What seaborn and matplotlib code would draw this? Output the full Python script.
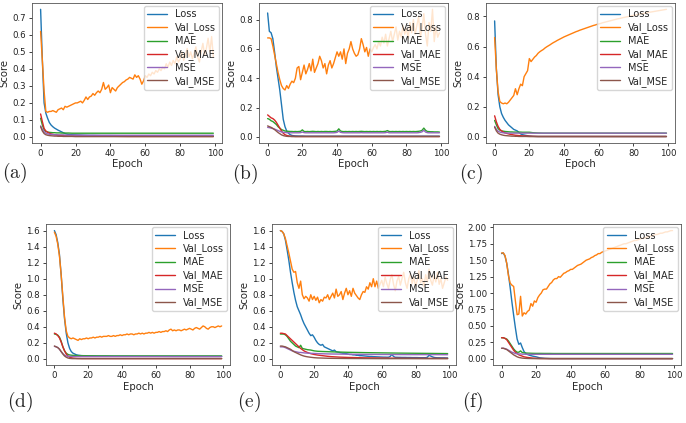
"""
Training curves (Loss / MAE / MSE) for six model runs, panels (a)-(f)
"""

import pandas as pd
import matplotlib
matplotlib.use('Agg')
import matplotlib.pyplot as plt
from matplotlib.ticker import MultipleLocator
import seaborn as sns

# ---- data -----------------------------------------------------------------
LABELS = ['Loss', 'Val_Loss', 'MAE', 'Val_MAE', 'MSE', 'Val_MSE']
PANELS = ['(a)', '(b)', '(c)', '(d)', '(e)', '(f)']
Y_STEP = [0.1, 0.2, 0.2, 0.2, 0.2, 0.25]

# full epoch axis, and the sparse one used for the smooth curves
EP_FULL = list(range(100))
EP_S = [0, 1, 2, 3, 4, 5, 6, 7, 8, 9, 10, 11, 12, 13, 14, 15, 16, 18, 20, 22,
        25, 28, 30, 35, 40, 50, 60, 70, 80, 90, 99]

# (a)
a_loss = [0.75, 0.45, 0.2, 0.14, 0.11, 0.085, 0.07, 0.06, 0.052, 0.046, 0.04, 0.035, 0.03, 0.025, 0.02, 0.017,
          0.015, 0.013, 0.012, 0.011, 0.01, 0.009, 0.009, 0.008, 0.008, 0.007, 0.007, 0.006, 0.006, 0.005, 0.005]
a_val_loss = [0.62, 0.45, 0.27, 0.15, 0.145, 0.15, 0.15, 0.155, 0.15, 0.145,
              0.16, 0.165, 0.17, 0.16, 0.18, 0.175, 0.18, 0.185, 0.19, 0.195,
              0.2, 0.2, 0.205, 0.21, 0.2, 0.215, 0.235, 0.22, 0.235, 0.24,
              0.255, 0.245, 0.26, 0.27, 0.26, 0.28, 0.32, 0.28, 0.29, 0.305,
              0.26, 0.29, 0.28, 0.27, 0.29, 0.3, 0.31, 0.32, 0.325, 0.335,
              0.34, 0.35, 0.345, 0.34, 0.365, 0.35, 0.36, 0.34, 0.31, 0.33,
              0.36, 0.35, 0.37, 0.36, 0.38, 0.37, 0.39, 0.38, 0.4, 0.39,
              0.41, 0.4, 0.43, 0.41, 0.44, 0.42, 0.45, 0.43, 0.47, 0.44,
              0.46, 0.5, 0.45, 0.48, 0.52, 0.47, 0.5, 0.46, 0.49, 0.53,
              0.47, 0.44, 0.5, 0.55, 0.48, 0.52, 0.58, 0.5, 0.59, 0.47]
a_mae = [0.11, 0.07, 0.042, 0.032, 0.029, 0.027, 0.026, 0.025, 0.025, 0.024, 0.024, 0.024, 0.023, 0.023, 0.023, 0.023,
         0.023, 0.022, 0.022, 0.022, 0.022, 0.022, 0.022, 0.022, 0.022, 0.022, 0.022, 0.022, 0.022, 0.022, 0.022]
a_val_mae = [0.135, 0.09, 0.05, 0.035, 0.028, 0.022, 0.018, 0.015, 0.013, 0.012, 0.01, 0.009, 0.008, 0.008, 0.007, 0.007,
             0.006, 0.006, 0.005, 0.005, 0.005, 0.004, 0.004, 0.004, 0.004, 0.003, 0.003, 0.003, 0.003, 0.003, 0.003]
a_mse = [0.065, 0.045, 0.03, 0.022, 0.018, 0.016, 0.015, 0.014, 0.013, 0.013, 0.012, 0.012, 0.012, 0.012, 0.011, 0.011,
         0.011, 0.011, 0.011, 0.011, 0.01, 0.01, 0.01, 0.01, 0.01, 0.01, 0.01, 0.01, 0.01, 0.01, 0.01]
a_val_mse = [0.06, 0.035, 0.02, 0.013, 0.01, 0.008, 0.007, 0.006, 0.005, 0.005, 0.004, 0.004, 0.004, 0.003, 0.003, 0.003,
             0.003, 0.003, 0.002, 0.002, 0.002, 0.002, 0.002, 0.002, 0.002, 0.002, 0.002, 0.002, 0.002, 0.002, 0.002]

# (b)
b_loss = [0.845, 0.72, 0.71, 0.67, 0.58, 0.48, 0.4, 0.32, 0.22, 0.12, 0.07, 0.04, 0.025, 0.015, 0.01, 0.008,
          0.007, 0.006, 0.006, 0.005, 0.005, 0.005, 0.005, 0.005, 0.005, 0.005, 0.005, 0.005, 0.005, 0.005, 0.005]
b_val_loss = [0.675, 0.675, 0.67, 0.62, 0.56, 0.5, 0.44, 0.39, 0.35, 0.33,
              0.32, 0.35, 0.33, 0.36, 0.38, 0.37, 0.4, 0.47, 0.48, 0.39,
              0.44, 0.49, 0.43, 0.46, 0.5, 0.45, 0.53, 0.44, 0.47, 0.5,
              0.55, 0.52, 0.47, 0.5, 0.43, 0.49, 0.52, 0.47, 0.5, 0.54,
              0.58, 0.55, 0.58, 0.53, 0.6, 0.5, 0.57, 0.6, 0.65, 0.6,
              0.57, 0.55, 0.56, 0.6, 0.67, 0.63, 0.58, 0.61, 0.55, 0.6,
              0.58, 0.61, 0.63, 0.6, 0.65, 0.62, 0.68, 0.64, 0.7, 0.62,
              0.67, 0.72, 0.65, 0.7, 0.75, 0.66, 0.72, 0.68, 0.76, 0.7,
              0.74, 0.67, 0.78, 0.71, 0.8, 0.7, 0.76, 0.82, 0.68, 0.74,
              0.84, 0.7, 0.62, 0.78, 0.72, 0.87, 0.65, 0.75, 0.68, 0.71]
b_mae = [0.125, 0.12, 0.11, 0.105, 0.095, 0.085, 0.07, 0.06, 0.05, 0.045,
         0.04, 0.039, 0.038, 0.037, 0.037, 0.036, 0.037, 0.036, 0.037, 0.038,
         0.048, 0.037, 0.036, 0.037, 0.036, 0.037, 0.038, 0.037, 0.036, 0.037,
         0.036, 0.037, 0.036, 0.037, 0.037, 0.036, 0.037, 0.036, 0.037, 0.038,
         0.04, 0.055, 0.04, 0.037, 0.036, 0.037, 0.036, 0.037, 0.036, 0.037,
         0.036, 0.037, 0.036, 0.037, 0.038, 0.037, 0.036, 0.037, 0.036, 0.037,
         0.036, 0.037, 0.036, 0.037, 0.036, 0.037, 0.036, 0.037, 0.038, 0.043,
         0.037, 0.036, 0.037, 0.036, 0.037, 0.036, 0.037, 0.036, 0.037, 0.036,
         0.037, 0.036, 0.037, 0.036, 0.037, 0.036, 0.037, 0.038, 0.04, 0.045,
         0.06, 0.045, 0.037, 0.036, 0.035, 0.035, 0.034, 0.034, 0.034, 0.033]
b_val_mae = [0.15, 0.14, 0.13, 0.125, 0.115, 0.1, 0.08, 0.06, 0.04, 0.025, 0.015, 0.01, 0.007, 0.005, 0.004, 0.004,
             0.003, 0.003, 0.003, 0.003, 0.003, 0.003, 0.003, 0.003, 0.003, 0.003, 0.003, 0.003, 0.003, 0.003, 0.003]
b_mse = [0.065, 0.063, 0.06, 0.057, 0.053, 0.048, 0.043, 0.038, 0.034, 0.031,
         0.03, 0.029, 0.029, 0.028, 0.028, 0.028, 0.028, 0.028, 0.028, 0.029,
         0.033, 0.029, 0.028, 0.028, 0.028, 0.028, 0.028, 0.028, 0.028, 0.028,
         0.028, 0.028, 0.028, 0.028, 0.028, 0.028, 0.028, 0.028, 0.028, 0.029,
         0.031, 0.04, 0.031, 0.029, 0.028, 0.028, 0.028, 0.028, 0.028, 0.028,
         0.028, 0.028, 0.028, 0.028, 0.029, 0.028, 0.028, 0.028, 0.028, 0.028,
         0.028, 0.028, 0.028, 0.028, 0.028, 0.028, 0.028, 0.028, 0.029, 0.032,
         0.028, 0.028, 0.028, 0.028, 0.028, 0.028, 0.028, 0.028, 0.028, 0.028,
         0.028, 0.028, 0.028, 0.028, 0.028, 0.028, 0.028, 0.029, 0.031, 0.035,
         0.045, 0.033, 0.029, 0.028, 0.028, 0.028, 0.028, 0.028, 0.028, 0.028]
b_val_mse = [0.075, 0.07, 0.065, 0.058, 0.05, 0.04, 0.03, 0.022, 0.014, 0.009, 0.006, 0.004, 0.003, 0.003, 0.002, 0.002,
             0.002, 0.002, 0.002, 0.002, 0.002, 0.002, 0.002, 0.002, 0.002, 0.002, 0.002, 0.002, 0.002, 0.002, 0.002]

# (c)
c_loss = [0.77, 0.45, 0.28, 0.2, 0.155, 0.13, 0.11, 0.095, 0.08, 0.07, 0.06, 0.05, 0.045, 0.04, 0.03, 0.02,
          0.015, 0.01, 0.006, 0.004, 0.003, 0.003, 0.003, 0.003, 0.003, 0.003, 0.003, 0.003, 0.003, 0.003, 0.003]
c_val_loss = [0.66, 0.45, 0.3, 0.235, 0.225, 0.22, 0.225, 0.22, 0.23, 0.245,
              0.26, 0.275, 0.32, 0.28, 0.32, 0.35, 0.34, 0.4, 0.42, 0.44,
              0.52, 0.5, 0.515, 0.53, 0.54, 0.555, 0.565, 0.573, 0.58, 0.59,
              0.598, 0.605, 0.612, 0.62, 0.627, 0.633, 0.64, 0.646, 0.652, 0.658,
              0.664, 0.669, 0.674, 0.679, 0.684, 0.689, 0.694, 0.699, 0.703, 0.708,
              0.712, 0.716, 0.72, 0.724, 0.728, 0.732, 0.736, 0.74, 0.743, 0.747,
              0.75, 0.753, 0.757, 0.76, 0.763, 0.766, 0.769, 0.772, 0.775, 0.778,
              0.781, 0.784, 0.786, 0.789, 0.792, 0.794, 0.797, 0.799, 0.802, 0.804,
              0.807, 0.809, 0.811, 0.814, 0.816, 0.818, 0.82, 0.822, 0.825, 0.827,
              0.829, 0.831, 0.833, 0.835, 0.837, 0.839, 0.841, 0.843, 0.845, 0.847]
c_mae = [0.11, 0.08, 0.055, 0.045, 0.04, 0.038, 0.036, 0.035, 0.034, 0.033, 0.033, 0.032, 0.032, 0.032, 0.032, 0.032,
         0.031, 0.031, 0.031, 0.028, 0.026, 0.025, 0.025, 0.025, 0.025, 0.025, 0.025, 0.025, 0.025, 0.025, 0.025]
c_val_mae = [0.14, 0.1, 0.07, 0.05, 0.04, 0.032, 0.027, 0.023, 0.02, 0.017, 0.015, 0.013, 0.011, 0.01, 0.009, 0.008,
             0.007, 0.006, 0.005, 0.004, 0.003, 0.003, 0.003, 0.003, 0.003, 0.003, 0.003, 0.003, 0.003, 0.003, 0.003]
c_mse = [0.07, 0.05, 0.038, 0.032, 0.029, 0.027, 0.026, 0.026, 0.025, 0.025, 0.025, 0.025, 0.025, 0.025, 0.025, 0.025,
         0.025, 0.025, 0.025, 0.025, 0.025, 0.025, 0.025, 0.025, 0.025, 0.025, 0.025, 0.025, 0.025, 0.025, 0.025]
c_val_mse = [0.065, 0.04, 0.025, 0.018, 0.014, 0.011, 0.009, 0.008, 0.007, 0.006, 0.005, 0.005, 0.004, 0.004, 0.003, 0.003,
             0.003, 0.003, 0.002, 0.002, 0.002, 0.002, 0.002, 0.002, 0.002, 0.002, 0.002, 0.002, 0.002, 0.002, 0.002]

# (d)
d_loss = [1.6, 1.55, 1.45, 1.3, 1.05, 0.75, 0.5, 0.32, 0.2, 0.13, 0.09, 0.07, 0.06, 0.05, 0.045, 0.042,
          0.04, 0.038, 0.036, 0.035, 0.034, 0.033, 0.033, 0.032, 0.032, 0.031, 0.031, 0.03, 0.03, 0.03, 0.03]
d_val_loss = [1.58, 1.53, 1.43, 1.28, 1.05, 0.78, 0.52, 0.35, 0.28, 0.26,
              0.25, 0.26, 0.25, 0.24, 0.23, 0.25, 0.24, 0.25, 0.25, 0.26,
              0.25, 0.26, 0.26, 0.27, 0.26, 0.27, 0.27, 0.28, 0.27, 0.28,
              0.28, 0.28, 0.29, 0.28, 0.28, 0.29, 0.28, 0.29, 0.29, 0.3,
              0.29, 0.3, 0.3, 0.31, 0.3, 0.31, 0.31, 0.3, 0.31, 0.31,
              0.32, 0.31, 0.32, 0.31, 0.32, 0.32, 0.33, 0.32, 0.33, 0.32,
              0.33, 0.33, 0.34, 0.33, 0.34, 0.34, 0.35, 0.34, 0.36, 0.37,
              0.35, 0.36, 0.35, 0.36, 0.36, 0.35, 0.36, 0.37, 0.36, 0.37,
              0.38, 0.37, 0.36, 0.38, 0.39, 0.38, 0.37, 0.39, 0.41, 0.4,
              0.38, 0.37, 0.39, 0.4, 0.4, 0.39, 0.4, 0.41, 0.4, 0.41]
d_mae = [0.31, 0.305, 0.295, 0.27, 0.22, 0.15, 0.1, 0.07, 0.055, 0.048, 0.045, 0.043, 0.042, 0.041, 0.04, 0.04,
         0.039, 0.039, 0.038, 0.038, 0.037, 0.037, 0.037, 0.036, 0.036, 0.036, 0.036, 0.036, 0.036, 0.036, 0.036]
d_val_mae = [0.32, 0.31, 0.29, 0.26, 0.21, 0.15, 0.1, 0.06, 0.035, 0.02, 0.013, 0.009, 0.007, 0.005, 0.004, 0.004,
             0.003, 0.003, 0.003, 0.003, 0.003, 0.003, 0.003, 0.003, 0.003, 0.003, 0.003, 0.003, 0.003, 0.003, 0.003]
d_mse = [0.155, 0.15, 0.14, 0.12, 0.09, 0.065, 0.045, 0.036, 0.032, 0.03, 0.029, 0.029, 0.028, 0.028, 0.028, 0.028,
         0.028, 0.028, 0.028, 0.028, 0.028, 0.028, 0.028, 0.028, 0.028, 0.028, 0.028, 0.028, 0.028, 0.028, 0.028]
d_val_mse = [0.16, 0.15, 0.14, 0.12, 0.09, 0.06, 0.035, 0.02, 0.01, 0.005, 0.003, 0.002, 0.002, 0.002, 0.002, 0.002,
             0.002, 0.002, 0.002, 0.002, 0.002, 0.002, 0.002, 0.002, 0.002, 0.002, 0.002, 0.002, 0.002, 0.002, 0.002]

# (e)
e_loss = [1.6, 1.59, 1.56, 1.48, 1.36, 1.23, 1.08, 0.95, 0.83, 0.73,
          0.65, 0.6, 0.55, 0.49, 0.44, 0.4, 0.36, 0.32, 0.29, 0.3,
          0.27, 0.23, 0.2, 0.18, 0.17, 0.18, 0.15, 0.14, 0.13, 0.12,
          0.11, 0.1, 0.11, 0.09, 0.085, 0.08, 0.075, 0.07, 0.07, 0.065,
          0.06, 0.055, 0.055, 0.05, 0.05, 0.045, 0.045, 0.04, 0.04, 0.038,
          0.036, 0.034, 0.032, 0.03, 0.03, 0.028, 0.027, 0.026, 0.025, 0.024,
          0.023, 0.022, 0.022, 0.021, 0.021, 0.03, 0.055, 0.03, 0.02, 0.02,
          0.019, 0.019, 0.018, 0.018, 0.018, 0.017, 0.017, 0.017, 0.016, 0.016,
          0.016, 0.016, 0.015, 0.015, 0.015, 0.015, 0.015, 0.02, 0.045, 0.035,
          0.025, 0.018, 0.015, 0.014, 0.014, 0.013, 0.013, 0.013, 0.012, 0.012]
e_val_loss = [1.6, 1.59, 1.56, 1.5, 1.41, 1.32, 1.22, 1.12, 1.08, 1.09,
              0.95, 0.88, 0.97, 0.8, 0.75, 0.78, 0.76, 0.72, 0.8, 0.74,
              0.78, 0.73, 0.77, 0.7, 0.74, 0.72, 0.77, 0.76, 0.8, 0.74,
              0.78, 0.82, 0.76, 0.87, 0.78, 0.8, 0.84, 0.74, 0.82, 0.88,
              0.8, 0.85, 0.78, 0.88, 0.82, 0.79, 0.76, 0.74, 0.8, 0.84,
              0.83, 0.9, 0.87, 0.95, 0.9, 1.0, 0.9, 0.97, 0.88, 0.93,
              0.98, 0.9, 1.02, 0.94, 0.88, 0.99, 1.05, 0.93, 0.85, 0.97,
              1.03, 0.92, 1.0, 1.08, 0.95, 0.88, 1.0, 1.06, 0.94, 1.02,
              0.9, 0.98, 1.1, 0.95, 1.0, 0.9, 1.05, 0.96, 1.12, 0.98,
              0.92, 1.04, 0.96, 1.08, 0.93, 1.0, 0.88, 0.95, 1.02, 0.98]
e_mae = [0.31, 0.31, 0.31, 0.3, 0.28, 0.25, 0.22, 0.2, 0.18, 0.16, 0.15, 0.14, 0.17, 0.13, 0.125, 0.12,
         0.115, 0.11, 0.1, 0.095, 0.092, 0.09, 0.088, 0.085, 0.082, 0.078, 0.075, 0.072, 0.07, 0.068, 0.066]
e_val_mae = [0.32, 0.32, 0.315, 0.31, 0.29, 0.27, 0.25, 0.23, 0.21, 0.19, 0.17, 0.15, 0.13, 0.115, 0.1, 0.09,
             0.08, 0.065, 0.055, 0.048, 0.04, 0.032, 0.028, 0.022, 0.018, 0.013, 0.01, 0.008, 0.007, 0.006, 0.006]
e_mse = [0.15, 0.15, 0.148, 0.14, 0.13, 0.12, 0.11, 0.1, 0.095, 0.09, 0.085, 0.08, 0.08, 0.078, 0.075, 0.073,
         0.072, 0.07, 0.068, 0.066, 0.064, 0.062, 0.061, 0.06, 0.058, 0.056, 0.055, 0.054, 0.053, 0.053, 0.052]
e_val_mse = [0.16, 0.16, 0.155, 0.15, 0.14, 0.13, 0.12, 0.105, 0.09, 0.08, 0.07, 0.06, 0.05, 0.042, 0.035, 0.03,
             0.026, 0.02, 0.015, 0.012, 0.01, 0.008, 0.007, 0.006, 0.005, 0.004, 0.003, 0.003, 0.003, 0.003, 0.003]

# (f)
f_loss = [1.6, 1.61, 1.56, 1.45, 1.28, 1.08, 0.86, 0.66, 0.47, 0.3, 0.22, 0.24, 0.17, 0.11, 0.08, 0.065,
          0.055, 0.04, 0.03, 0.015, 0.007, 0.004, 0.003, 0.003, 0.003, 0.003, 0.003, 0.003, 0.003, 0.003, 0.003]
f_val_loss = [1.61, 1.61, 1.57, 1.45, 1.26, 1.15, 1.12, 1.1, 0.88, 0.67,
              0.68, 0.95, 0.65, 0.7, 0.68, 0.72, 0.74, 0.84, 0.8, 0.88,
              0.86, 0.93, 0.97, 1.0, 1.05, 1.06, 1.06, 1.1, 1.14, 1.16,
              1.2, 1.22, 1.22, 1.25, 1.24, 1.27, 1.3, 1.31, 1.33, 1.34,
              1.36, 1.36, 1.38, 1.4, 1.42, 1.43, 1.44, 1.46, 1.48, 1.5,
              1.51, 1.52, 1.54, 1.55, 1.57, 1.58, 1.6, 1.6, 1.62, 1.63,
              1.64, 1.65, 1.66, 1.67, 1.68, 1.69, 1.7, 1.71, 1.72, 1.73,
              1.74, 1.75, 1.75, 1.76, 1.77, 1.78, 1.79, 1.8, 1.8, 1.81,
              1.82, 1.83, 1.83, 1.84, 1.85, 1.86, 1.86, 1.87, 1.88, 1.89,
              1.89, 1.9, 1.91, 1.91, 1.92, 1.93, 1.93, 1.94, 1.95, 1.95]
f_mae = [0.32, 0.32, 0.31, 0.3, 0.27, 0.23, 0.19, 0.15, 0.12, 0.1, 0.1, 0.12, 0.095, 0.09, 0.088, 0.086,
         0.085, 0.083, 0.082, 0.082, 0.081, 0.081, 0.08, 0.08, 0.08, 0.08, 0.08, 0.08, 0.08, 0.08, 0.08]
f_val_mae = [0.32, 0.32, 0.31, 0.29, 0.25, 0.21, 0.17, 0.13, 0.1, 0.08, 0.06, 0.05, 0.04, 0.03, 0.025, 0.02,
             0.017, 0.01, 0.007, 0.005, 0.004, 0.003, 0.003, 0.003, 0.003, 0.003, 0.003, 0.003, 0.003, 0.003, 0.003]
f_mse = [0.16, 0.16, 0.155, 0.145, 0.13, 0.115, 0.1, 0.09, 0.08, 0.075, 0.072, 0.075, 0.07, 0.07, 0.069, 0.069,
         0.068, 0.068, 0.068, 0.068, 0.068, 0.068, 0.068, 0.068, 0.068, 0.068, 0.068, 0.068, 0.068, 0.068, 0.068]
f_val_mse = [0.16, 0.16, 0.15, 0.14, 0.12, 0.1, 0.08, 0.06, 0.045, 0.03, 0.02, 0.015, 0.01, 0.008, 0.006, 0.005,
             0.004, 0.003, 0.002, 0.002, 0.002, 0.002, 0.002, 0.002, 0.002, 0.002, 0.002, 0.002, 0.002, 0.002, 0.002]

AX_POS = [
    [0.0466, 0.662, 0.277, 0.331],
    [0.3776, 0.662, 0.2755, 0.331],
    [0.7085, 0.662, 0.2755, 0.331],
    [0.0671, 0.137, 0.2682, 0.333],
    [0.3965, 0.137, 0.2682, 0.333],
    [0.7187, 0.137, 0.2741, 0.333],
]
TAG_POS = [(0.003, 0.562), (0.338, 0.560), (0.669, 0.560),
           (0.010, 0.022), (0.345, 0.022), (0.673, 0.022)]

PANEL_SERIES = [
    [(EP_S, a_loss), (EP_FULL, a_val_loss), (EP_S, a_mae), (EP_S, a_val_mae), (EP_S, a_mse), (EP_S, a_val_mse)],
    [(EP_S, b_loss), (EP_FULL, b_val_loss), (EP_FULL, b_mae), (EP_S, b_val_mae), (EP_FULL, b_mse), (EP_S, b_val_mse)],
    [(EP_S, c_loss), (EP_FULL, c_val_loss), (EP_S, c_mae), (EP_S, c_val_mae), (EP_S, c_mse), (EP_S, c_val_mse)],
    [(EP_S, d_loss), (EP_FULL, d_val_loss), (EP_S, d_mae), (EP_S, d_val_mae), (EP_S, d_mse), (EP_S, d_val_mse)],
    [(EP_FULL, e_loss), (EP_FULL, e_val_loss), (EP_S, e_mae), (EP_S, e_val_mae), (EP_S, e_mse), (EP_S, e_val_mse)],
    [(EP_S, f_loss), (EP_FULL, f_val_loss), (EP_S, f_mae), (EP_S, f_val_mae), (EP_S, f_mse), (EP_S, f_val_mse)],
]

# ---- plot -----------------------------------------------------------------
sns.set_style('ticks')
plt.rcParams['font.family'] = ['DejaVu Sans']
plt.rcParams['mathtext.fontset'] = 'cm'
colors = sns.color_palette('tab10', 6)

fig = plt.figure(figsize=(6.86, 4.23), dpi=100)

for pos, series, tag, tpos, ystep in zip(AX_POS, PANEL_SERIES, PANELS, TAG_POS, Y_STEP):
    ax = fig.add_axes(pos)
    for (ep, vals), label, color in zip(series, LABELS, colors):
        df = pd.DataFrame({'Epoch': ep, 'Score': vals})
        sns.lineplot(data=df, x='Epoch', y='Score', ax=ax, color=color,
                     label=label, linewidth=1.0)
    ax.set_xticks([0, 20, 40, 60, 80, 100])
    ax.yaxis.set_major_locator(MultipleLocator(ystep))
    ax.tick_params(labelsize=6.2, length=2.4, width=0.6, pad=2, colors='#222222')
    ax.set_xlabel('Epoch', fontsize=7.3, labelpad=1)
    ax.set_ylabel('Score', fontsize=7.3, labelpad=2)
    for sp in ax.spines.values():
        sp.set_linewidth(0.6)
        sp.set_color('#555555')
    ax.legend(loc='upper right', fontsize=7, handlelength=2.0,
              borderpad=0.35, labelspacing=0.3, handletextpad=0.8,
              borderaxespad=0.3)
    fig.text(tpos[0], tpos[1], r'$\mathrm{' + tag + '}$', fontsize=14,
             ha='left', va='bottom')

plt.savefig('out.png', dpi=100)
plt.close()
